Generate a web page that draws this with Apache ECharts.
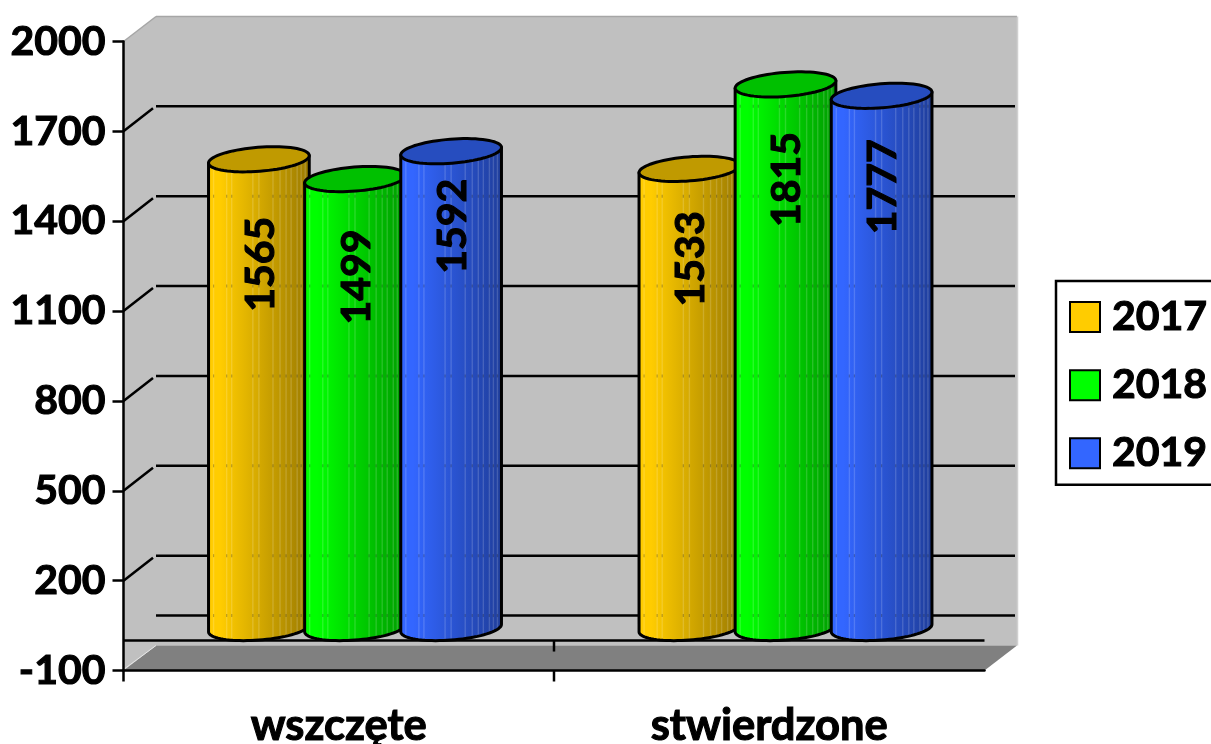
<!DOCTYPE html>
<html>
<head>
<meta charset="utf-8">
<style>html,body{margin:0;padding:0;background:#fff;overflow:hidden}#c{width:1211px;height:744px}</style>
<script src="https://cdn.jsdelivr.net/npm/echarts@6/dist/echarts.min.js"></script>
</head>
<body>
<div id="c"></div>
<script>
const categories = ['wszczęte', 'stwierdzone'];
const seriesNames = ['2017', '2018', '2019'];
const values2017 = [1565, 1533];
const values2018 = [1499, 1815];
const values2019 = [1592, 1777];
const yTicks = [200, 500, 800, 1100, 1400, 1700];

const valuesBySeries = [values2017, values2018, values2019];
const light = ['#ffcc00', '#00ff00', '#3366ff'];
const dark = ['#9c7b00', '#009c00', '#1f3e9c'];
const cap = ['#c09a00', '#00c000', '#264dbf'];
const FONT = 'bold 41px Lato, "Open Sans", sans-serif';
const EMBOLDEN = 1.1;
const DX = 32.5, DY = 25;             // depth of the 3D box
const A = 50.5, B = 12, TH = -4.5 * Math.PI / 180;   // cylinder ellipse
const STEP = 96;                      // spacing of cylinders in a group
const labelDrop = [[105, 90], [98, 95], [75, 91]];   // rotated label centre below the cap
const stripes = [.05, .18, .23, .44, .5, .64, .71, .77, .82, .88, .92, .96];

function ell(cx, cy, t) {
  return [cx + A * Math.cos(t) * Math.cos(TH) - B * Math.sin(t) * Math.sin(TH),
          cy + A * Math.cos(t) * Math.sin(TH) + B * Math.sin(t) * Math.cos(TH)];
}
const T0 = Math.atan(-(B / A) * Math.tan(TH));
function lowerArc(cx, cy, n) {
  const p = [];
  for (let i = 0; i <= n; i++) p.push(ell(cx, cy, T0 + Math.PI * i / n));
  return p; // right -> left
}
function lowerY(arc, x) {
  for (let i = 0; i < arc.length - 1; i++) {
    if (x <= arc[i][0] && x >= arc[i + 1][0]) {
      const k = (arc[i][0] - x) / Math.max(arc[i][0] - arc[i + 1][0], 1e-6);
      return arc[i][1] + k * (arc[i + 1][1] - arc[i][1]);
    }
  }
  return arc[0][1];
}

function renderBox(params, api) {
  const cs = params.coordSys;
  const L = cs.x, R = cs.x + cs.width;
  const yOf = v => api.coord([0, v])[1];
  const top = yOf(2000), bot = yOf(-100), zero = yOf(0);
  const kids = [];
  const line = (x1, y1, x2, y2, stroke, w) => kids.push({
    type: 'line', shape: { x1, y1, x2, y2 }, style: { stroke, lineWidth: w }
  });
  kids.push({ type: 'polygon', shape: { points: [[L + DX, top - DY], [R + DX, top - DY], [R + DX, bot - DY], [L + DX, bot - DY]] }, style: { fill: '#c0c0c0' } });
  kids.push({ type: 'polygon', shape: { points: [[L, top], [L + DX, top - DY], [L + DX, bot - DY], [L, bot]] }, style: { fill: '#c0c0c0' } });
  kids.push({ type: 'polygon', shape: { points: [[L, bot], [L + DX, bot - DY], [R + DX, bot - DY], [R, bot]] }, style: { fill: '#808080' } });
  line(L, top, L + DX, top - DY, '#a6a6a6', 1.5);
  line(L + DX, top - DY, R + DX, top - DY, '#a6a6a6', 1.5);
  line(R + DX + .5, top - DY, R + DX + .5, bot - DY, '#d0d0d0', 1.5);
  line(L, bot - 1, L + DX, bot - DY, '#e6e6e6', 1);
  yTicks.forEach(v => {
    const y = yOf(v);
    line(L, y, L + DX - 3, y - DY + 2, '#000', 2.5);
    line(L + DX, y - DY, R + DX - 2, y - DY, '#000', 2.5);
  });
  line(L + DX, zero - DY, R + DX - 2, zero - DY, '#000', 2.5);
  line(L, zero, R, zero, '#000', 2.5);
  const mid = (L + R) / 2;
  line(mid, zero, mid, zero + 11, '#000', 2.5);
  line(L, bot, L, bot + 11, '#000', 2.5);
  line(mid, bot, mid, bot + 11, '#000', 2.5);
  return { type: 'group', children: kids };
}

function makeCylinder(si) {
  return function (params, api) {
    const cat = api.value(0), val = api.value(1);
    const band = api.size([1, 0])[0];
    const base = api.coord([cat, 0]);
    const head = api.coord([cat, val]);
    const cx = base[0] + DX / 2 + (si - 1) * STEP / 430 * band;
    const yB = base[1] - DY / 2, yT = head[1] - DY / 2;
    const botArc = lowerArc(cx, yB, 40);
    const topArc = lowerArc(cx, yT, 40);
    const xR = botArc[0][0], xL = botArc[40][0];
    const kids = [];
    const body = [[xR, topArc[0][1]]].concat(botArc, [[xL, topArc[40][1]]]);
    kids.push({
      type: 'polygon', shape: { points: body },
      style: {
        fill: new echarts.graphic.LinearGradient(0, 0, 1, 0, [
          { offset: 0, color: light[si] }, { offset: .12, color: light[si] }, { offset: 1, color: dark[si] }
        ])
      }
    });
    stripes.forEach(f => {
      const x = xL + f * (xR - xL);
      kids.push({
        type: 'line',
        shape: { x1: x, y1: lowerY(topArc, x), x2: x, y2: lowerY(botArc, x) },
        style: { stroke: 'rgba(255,255,255,0.16)', lineWidth: 1.4 }
      });
      yTicks.concat([0]).forEach(v => {
        const gy = api.coord([0, v])[1] - DY;
        if (gy > lowerY(topArc, x) && gy < lowerY(botArc, x)) {
          kids.push({
            type: 'line', shape: { x1: x, y1: gy - 1.5, x2: x, y2: gy + 1.5 },
            style: { stroke: 'rgba(0,0,0,0.25)', lineWidth: 1.2 }
          });
        }
      });
    });
    kids.push({
      type: 'polygon', shape: { points: body },
      style: { fill: 'none', stroke: '#000', lineWidth: 3, lineJoin: 'round' }
    });
    const capPts = [];
    for (let i = 0; i < 72; i++) capPts.push(ell(cx, yT, i / 72 * 2 * Math.PI));
    kids.push({
      type: 'polygon', shape: { points: capPts },
      style: { fill: cap[si], stroke: '#000', lineWidth: 3 }
    });
    kids.push({
      type: 'text', x: cx + 1.5, y: yT + labelDrop[si][cat], rotation: Math.PI / 2,
      style: { text: String(val), font: FONT, fill: '#000', stroke: '#000', lineWidth: EMBOLDEN, textAlign: 'center', textVerticalAlign: 'middle' }
    });
    return { type: 'group', children: kids };
  };
}

const axisLine = { show: true, onZero: false, lineStyle: { color: '#000', width: 2.5 } };
const axisTick = { show: true, length: 11, lineStyle: { color: '#000', width: 2.5 } };
const boldText = { color: '#000', fontFamily: 'Lato', fontWeight: 'bold', textBorderColor: '#000', textBorderWidth: EMBOLDEN };

const chart = echarts.init(document.getElementById('c'), null, { width: 1211, height: 744 });
chart.setOption({
  animation: false,
  backgroundColor: '#ffffff',
  grid: { left: 123.5, right: 226.5, top: 41.5, bottom: 73.5, containLabel: false, outerBoundsMode: 'none' },
  legend: {
    orient: 'vertical', left: 1056, top: 281,
    data: seriesNames.map(name => ({ name, icon: 'rect' })),
    backgroundColor: '#fff', borderColor: '#000', borderWidth: 2.5,
    padding: [15, 10, 10.5, 13],
    itemWidth: 30, itemHeight: 30, itemGap: 26,
    selectedMode: false,
    textStyle: Object.assign({ fontSize: 41, padding: [5, 0, 0, 7] }, boldText)
  },
  xAxis: {
    type: 'category', data: categories, position: 'bottom', z: 1,
    axisLine, axisTick: { show: false },
    splitLine: { show: false },
    axisLabel: Object.assign({ fontSize: 43.5, margin: 33 }, boldText)
  },
  yAxis: {
    type: 'value', min: -100, max: 2000, interval: 300, z: 1,
    axisLine, axisTick,
    splitLine: { show: false },
    axisLabel: Object.assign({ fontSize: 41, margin: 18, padding: [6, 0, 0, 0], formatter: v => String(v) }, boldText)
  },
  series: [
    { type: 'custom', name: 'box', z: 0, silent: true, data: [[0, 0]], renderItem: renderBox, clip: false }
  ].concat(seriesNames.map((n, si) => ({
    type: 'custom', name: n, z: 2 + si, silent: true,
    itemStyle: { color: light[si], borderColor: '#000', borderWidth: 2.5 },
    data: valuesBySeries[si].map((v, i) => [i, v]),
    encode: { x: 0, y: 1 },
    renderItem: makeCylinder(si)
  })))
});
</script>
</body>
</html>
